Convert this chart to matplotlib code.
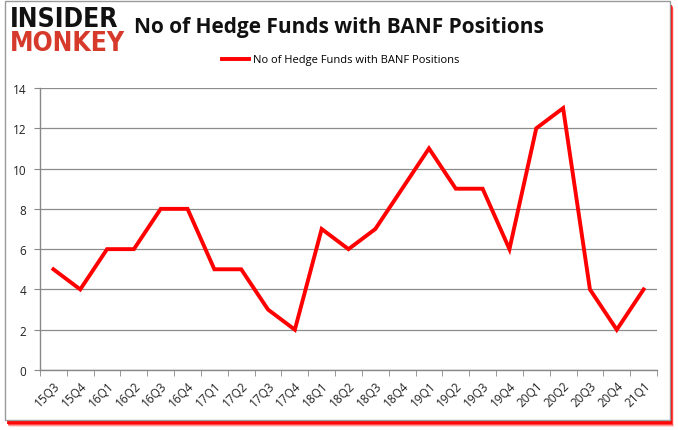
import matplotlib
matplotlib.use("Agg")
import matplotlib.pyplot as plt
from matplotlib.patches import Rectangle
import numpy as np

quarters = ["15Q3", "15Q4", "16Q1", "16Q2", "16Q3", "16Q4", "17Q1", "17Q2", "17Q3", "17Q4",
            "18Q1", "18Q2", "18Q3", "18Q4", "19Q1", "19Q2", "19Q3", "19Q4", "20Q1", "20Q2",
            "20Q3", "20Q4", "21Q1"]
funds = [5, 4, 6, 6, 8, 8, 5, 5, 3, 2, 7, 6, 7, 9, 11, 9, 9, 6, 12, 13, 4, 2, 4]
yticks = [0, 2, 4, 6, 8, 10, 12, 14]
series_name = "No of Hedge Funds with BANF Positions"

plt.rcParams['font.family'] = ['Open Sans', 'DejaVu Sans']

fig = plt.figure(figsize=(6.78, 4.31), dpi=100)
W, H = 678, 431

def frect(x0, y0, x1, y1, **kw):
    # pixel coords with y from top
    return Rectangle((x0 / W, 1 - y1 / H), (x1 - x0) / W, (y1 - y0) / H,
                     transform=fig.transFigure, **kw)

# red shadow (soft)
for d, a in [(7, 0.15), (6, 0.3), (5, 0.55), (4, 0.9)]:
    fig.patches.append(frect(5 + d * 0.5, 2 + d, 670 + d * 0.5, 421 + d,
                             facecolor=(1, 0, 0, a), edgecolor='none', zorder=0))
fig.patches.append(frect(5, 2, 670, 421, facecolor='white', edgecolor='#9a9a9a',
                         linewidth=1.0, zorder=1))

ax = fig.add_axes([40 / W, 1 - 371 / H, (657 - 40) / W, (371 - 89) / H])
ax.set_zorder(2)
x = np.arange(len(quarters))
ax.plot(x, funds, color='#ff0000', linewidth=2.8, solid_joinstyle='miter', label=series_name, zorder=3)

ax.set_xlim(-0.5, len(quarters) - 0.5)
ax.set_ylim(0, 14)
ax.set_yticks(yticks)
ax.set_yticklabels([str(v) for v in yticks], fontsize=8.5, color='#222222')
ax.set_xticks(x)
ax.set_xticklabels(quarters, rotation=45, fontsize=8.5, color='#222222', ha='right', va='top',
                   rotation_mode='anchor')
ax.set_xticks(np.arange(-0.5, len(quarters) + 0.5, 1), minor=True)
ax.tick_params(axis='x', which='major', length=0, pad=6)
ax.tick_params(axis='x', which='minor', length=4, color='#888888', direction='out')
ax.tick_params(axis='y', length=4, color='#888888', direction='out', pad=6)
ax.grid(axis='y', color='#8c8c8c', linewidth=0.9)
ax.set_axisbelow(True)
for s in ['top', 'right']:
    ax.spines[s].set_visible(False)
for s in ['left', 'bottom']:
    ax.spines[s].set_color('#888888')
    ax.spines[s].set_linewidth(1.0)

fig.text(339 / W, 1 - 27 / H, "No of Hedge Funds with BANF Positions", ha='center', va='center',
         fontsize=15, fontweight='bold', color='#111111', zorder=5)

ax.legend(loc='center', bbox_to_anchor=(341 / W, 1 - 61 / H), bbox_transform=fig.transFigure,
          frameon=False, fontsize=8, handlelength=2.4, handletextpad=0.4)

fig.text(10 / W, 1 - 20 / H, "INSIDER", ha='left', va='center', fontsize=19, fontweight='heavy',
         color='#111111', family=['DejaVu Sans'], fontstretch='condensed', zorder=5)
fig.text(10 / W, 1 - 44 / H, "MONKEY", ha='left', va='center', fontsize=19, fontweight='heavy',
         color='#d63a2b', family=['DejaVu Sans'], fontstretch='condensed', zorder=5)

fig.savefig("out.png", dpi=100)
